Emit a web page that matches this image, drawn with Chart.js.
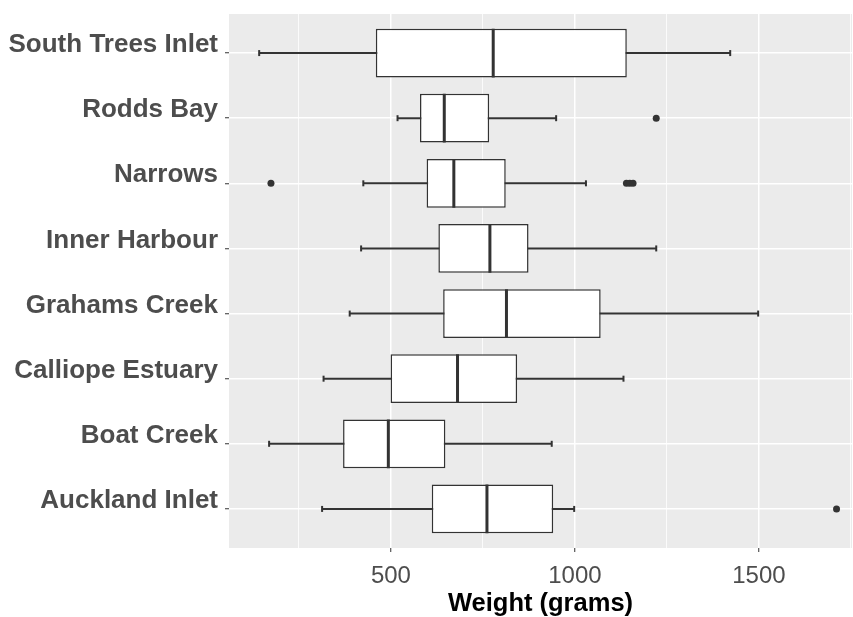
<!DOCTYPE html>
<html>
<head>
<meta charset="utf-8">
<script src="https://cdn.jsdelivr.net/npm/chart.js@4/dist/chart.umd.min.js"></script>
<style>
  body { margin: 0; background: #fff; }
</style>
</head>
<body>
<canvas id="weightChart" width="853" height="617"></canvas>
<script>
// Fish weight by site, boxplot (top to bottom)
const sites = ['South Trees Inlet', 'Rodds Bay', 'Narrows', 'Inner Harbour', 'Grahams Creek', 'Calliope Estuary', 'Boat Creek', 'Auckland Inlet'];
const whiskerLow = [142, 518, 425, 419, 388, 317, 169, 313];
const q1 = [459, 579, 597, 629, 642, 499, 370, 611];
const median = [778, 645, 671, 769, 814, 681, 493, 761];
const q3 = [1141, 767, 812, 874, 1070, 843, 648, 941];
const whiskerHigh = [1422, 949, 1030, 1221, 1498, 1132, 937, 998];
const outlierSite = ['Rodds Bay', 'Narrows', 'Narrows', 'Narrows', 'Narrows', 'Auckland Inlet'];
const outlierWeight = [1221, 174, 1140, 1149, 1158, 1711];
const xTicks = [500, 1000, 1500];
const xMinorTicks = [250, 750, 1250, 1750];

const ink = '#333333';

const panelBg = {
  id: 'panelBg',
  beforeDraw(chart) {
    const { ctx, chartArea: a } = chart;
    ctx.save();
    ctx.fillStyle = '#EBEBEB';
    ctx.fillRect(a.left, a.top, a.width, a.height);
    ctx.restore();
  }
};

Chart.defaults.font.family = "'Liberation Sans', Arial, sans-serif";

const ctx = document.getElementById('weightChart').getContext('2d');
new Chart(ctx, {
  type: 'bar',
  data: {
    labels: sites,
    datasets: [
      {
        type: 'scatter',
        data: sites.map((s, i) => ({ x: median[i], y: s })),
        pointStyle: 'line',
        rotation: 90,
        radius: 24.4,
        borderWidth: 3,
        borderColor: ink,
        order: 0
      },
      {
        type: 'scatter',
        data: outlierSite.map((s, i) => ({ x: outlierWeight[i], y: s })),
        pointStyle: 'circle',
        radius: 3.5,
        backgroundColor: ink,
        borderWidth: 0,
        order: 0
      },
      {
        data: sites.map((s, i) => [q1[i], q3[i]]),
        backgroundColor: '#ffffff',
        borderColor: ink,
        borderWidth: 1.5,
        borderSkipped: false,
        grouped: false,
        categoryPercentage: 0.75,
        barPercentage: 1,
        order: 1
      },
      {
        type: 'scatter',
        data: sites.flatMap((s, i) => [{ x: whiskerLow[i], y: s }, { x: whiskerHigh[i], y: s }]),
        pointStyle: 'line',
        rotation: 90,
        radius: 3,
        borderWidth: 2,
        borderColor: ink,
        order: 2
      },
      {
        data: sites.map((s, i) => [whiskerLow[i], whiskerHigh[i]]),
        backgroundColor: ink,
        borderWidth: 0,
        grouped: false,
        barThickness: 1.3,
        order: 3
      }
    ]
  },
  options: {
    indexAxis: 'y',
    responsive: false,
    animation: false,
    devicePixelRatio: 1,
    layout: { autoPadding: false, padding: { top: 14, right: 1, left: 0, bottom: 0 } },
    plugins: {
      legend: { display: false },
      tooltip: { enabled: false }
    },
    scales: {
      x: {
        type: 'linear',
        min: 60,
        max: 1753,
        afterBuildTicks: s => {
          s.ticks = xTicks.concat(xMinorTicks).sort((a, b) => a - b).map(v => ({ value: v }));
        },
        afterFit: s => {
          s.height = 69;
          s.paddingLeft = 0;
          s.paddingRight = 0;
        },
        border: { display: false },
        grid: {
          color: '#ffffff',
          lineWidth: c => xTicks.includes(c.tick.value) ? 1.5 : 0.8,
          tickLength: 4,
          tickWidth: 1,
          tickColor: c => xTicks.includes(c.tick.value) ? ink : 'rgba(0,0,0,0)'
        },
        ticks: {
          autoSkip: false,
          maxRotation: 0,
          padding: 10,
          color: '#4D4D4D',
          font: { size: 24 },
          callback: v => xTicks.includes(v) ? String(v) : ''
        },
        title: {
          display: true,
          text: 'Weight (grams)',
          color: '#000000',
          font: { size: 25.5, weight: 'bold', lineHeight: 1 },
          padding: { top: 0, bottom: 0 }
        }
      },
      y: {
        type: 'category',
        labels: sites,
        offset: true,
        afterBuildTicks: s => {
          s._startValue = s.min - 0.6;
          s._valueRange = s.max - s.min + 1.2;
        },
        afterFit: s => {
          s.width = 229;
          s.paddingTop = 0;
          s.paddingBottom = 0;
        },
        border: { display: false },
        grid: {
          offset: false,
          color: '#ffffff',
          lineWidth: 1.5,
          tickLength: 4,
          tickWidth: 1,
          tickColor: ink
        },
        ticks: {
          autoSkip: false,
          padding: 7,
          labelOffset: -8,
          color: '#4D4D4D',
          font: { size: 26, weight: 'bold' }
        }
      }
    }
  },
  plugins: [panelBg]
});
</script>
</body>
</html>
